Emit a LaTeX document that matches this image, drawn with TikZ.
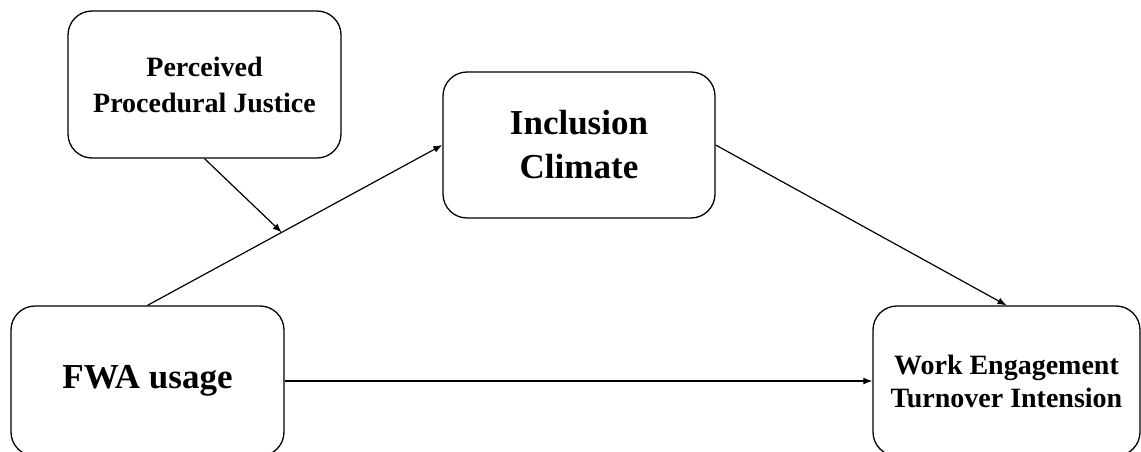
\documentclass[tikz,border=0pt]{standalone}
\usepackage{fontspec}
\setmainfont{Liberation Serif}
\usetikzlibrary{calc,arrows.meta}
\tikzset{
	varbox/.style={draw, rounded corners=24pt, line width=1.3pt, align=center, font=\bfseries},
	path/.style={-{Latex[length=9pt,width=7pt]}, line width=1.2pt}
}
\begin{document}
\begin{tikzpicture}[x=1pt, y=-1pt, line join=round]
	%%%%%%%%%%%%%%%%%%%%%%%%%%%%%%%%%
	\useasboundingbox (0,0) rectangle (1141,452);
	%%%%%%%%%%%%%%%%%%%%%%%%%%%%%%%%%
	\node[varbox, minimum width=273pt, minimum height=147pt, font=\fontsize{28}{36}\selectfont\bfseries] (PJ) at (204.5,84.5) {Perceived\\Procedural Justice};
	\node[varbox, minimum width=272pt, minimum height=146pt, font=\fontsize{35}{44}\selectfont\bfseries] (IC) at (579,145) {Inclusion\\Climate};
	\node[varbox, minimum width=273pt, minimum height=150pt, font=\fontsize{35}{44}\selectfont\bfseries] (FWA) at (147.5,381) {FWA usage};
	\node[varbox, minimum width=267pt, minimum height=150pt, font=\fontsize{28}{33}\selectfont\bfseries] (WE) at (1006.5,381) {Work Engagement\\Turnover Intension};
	%%%%%%%%%%%%%%%%%%%%%%%%%%%%%%%%%
	\coordinate (M) at ($(FWA.north)!0.455!(IC.west)$);
	\draw[path] (FWA.north) -- (IC.west);
	\draw[path] (PJ.south) -- (M);
	\draw[path] (IC.east) -- (WE.north);
	\draw[path] (FWA.east) -- (WE.west);
	%%%%%%%%%%%%%%%%%%%%%%%%%%%%%%%%%
\end{tikzpicture}
\end{document}
